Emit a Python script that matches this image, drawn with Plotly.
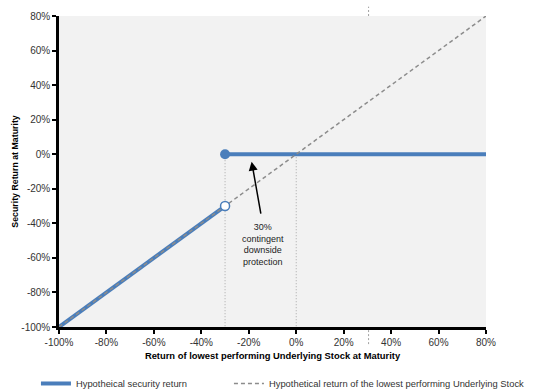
import plotly.graph_objects as go

# ---- data ----
barrier = -30                          # contingent downside protection level
security_below_x = [-100, -30]         # security return below barrier
security_below_y = [-100, -30]
security_above_x = [-30, 80]           # security return at/above barrier
security_above_y = [0, 0]
diag_x = [-100, 80]
diag_y = [-100, 80]
x_ticks = [-100, -80, -60, -40, -20, 0, 20, 40, 60, 80]
y_ticks = [-100, -80, -60, -40, -20, 0, 20, 40, 60, 80]

BLUE = "#4a7ebb"
GRAY = "#8c8c8c"
FONT = "Liberation Sans, Arial, sans-serif"

fig = go.Figure()

# dotted reference lines
for xv in [barrier, 0]:
    fig.add_trace(go.Scatter(x=[xv, xv], y=[0, -100], mode="lines",
                             line=dict(color="#a8a8a8", width=1, dash="1px,2px"),
                             showlegend=False, hoverinfo="skip"))

# security return lines
fig.add_trace(go.Scatter(x=security_below_x, y=security_below_y, mode="lines",
                         line=dict(color=BLUE, width=4),
                         name="Hypotheical security return", legend="legend"))
fig.add_trace(go.Scatter(x=security_above_x, y=security_above_y, mode="lines",
                         line=dict(color=BLUE, width=4),
                         showlegend=False))

# diagonal
fig.add_trace(go.Scatter(x=diag_x, y=diag_y, mode="lines",
                         line=dict(color=GRAY, width=1.5, dash="4px,3px"),
                         name="Hypothetical return of the lowest performing Underlying Stock",
                         legend="legend2"))

# markers
fig.add_trace(go.Scatter(x=[security_above_x[0]], y=[security_above_y[0]], mode="markers",
                         marker=dict(color=BLUE, size=10),
                         showlegend=False))
fig.add_trace(go.Scatter(x=[security_below_x[-1]], y=[security_below_y[-1]], mode="markers",
                         marker=dict(color="white", size=9, line=dict(color=BLUE, width=1.5)),
                         showlegend=False))

# arrow + annotation
fig.add_annotation(x=-18.8, y=-4.3, ax=-14.8, ay=-35.2, xref="x", yref="y",
                   axref="x", ayref="y", text="", showarrow=True,
                   arrowhead=2, arrowsize=1.2, arrowwidth=1.5, arrowcolor="black")
fig.add_annotation(x=-14.1, y=-38.0, xref="x", yref="y", yanchor="top",
                   text="30%<br>contingent<br>downside<br>protection",
                   showarrow=False, align="center",
                   font=dict(family=FONT, size=9, color="#222"))

# small gray dashed artifacts near 30%
fig.add_shape(type="line", xref="x", yref="paper", x0=30.5, x1=30.5, y0=1.0, y1=1.03,
              line=dict(color="#a0a0a0", width=1, dash="2px,2px"))
fig.add_shape(type="line", xref="x", yref="paper", x0=30.5, x1=30.5, y0=-0.01, y1=-0.06,
              line=dict(color="#a0a0a0", width=1, dash="2px,2px"))

axis_common = dict(range=[-100, 80], showgrid=False, zeroline=False, showline=True,
                   linecolor="black", linewidth=2.5, ticks="outside", ticklen=4,
                   tickwidth=2, tickcolor="black", automargin=False,
                   tickfont=dict(family=FONT, size=10, color="#333"))
fig.update_xaxes(tickvals=x_ticks, ticktext=[f"{v}%" for v in x_ticks],
                 title=dict(text="<b>Return of lowest performing Underlying Stock at Maturity</b>" + "\u00a0" * 9,
                            font=dict(family=FONT, size=9.4, color="black"), standoff=6),
                 **axis_common)
fig.update_yaxes(tickvals=y_ticks, ticktext=[f"{v}%" for v in y_ticks],
                 title=dict(text="<b>Security Return at Maturity</b>",
                            font=dict(family=FONT, size=8.8, color="black"), standoff=2),
                 **axis_common)

legend_common = dict(orientation="h", y=-0.135, xanchor="left", yanchor="top",
                     font=dict(family=FONT, size=9.4, color="#333"),
                     bgcolor="rgba(0,0,0,0)")
fig.update_layout(
    width=539, height=392,
    margin=dict(l=59, r=53, t=16, b=65, autoexpand=False),
    plot_bgcolor="#f2f2f2", paper_bgcolor="white",
    font=dict(family=FONT, size=10, color="#333"),
    legend=dict(x=-0.054, **legend_common),
    legend2=dict(x=0.398, **legend_common),
    showlegend=True,
)

fig.write_html("out.html", config={"displayModeBar": False},
               post_script="document.body.style.margin='0';document.body.style.overflow='hidden';")
